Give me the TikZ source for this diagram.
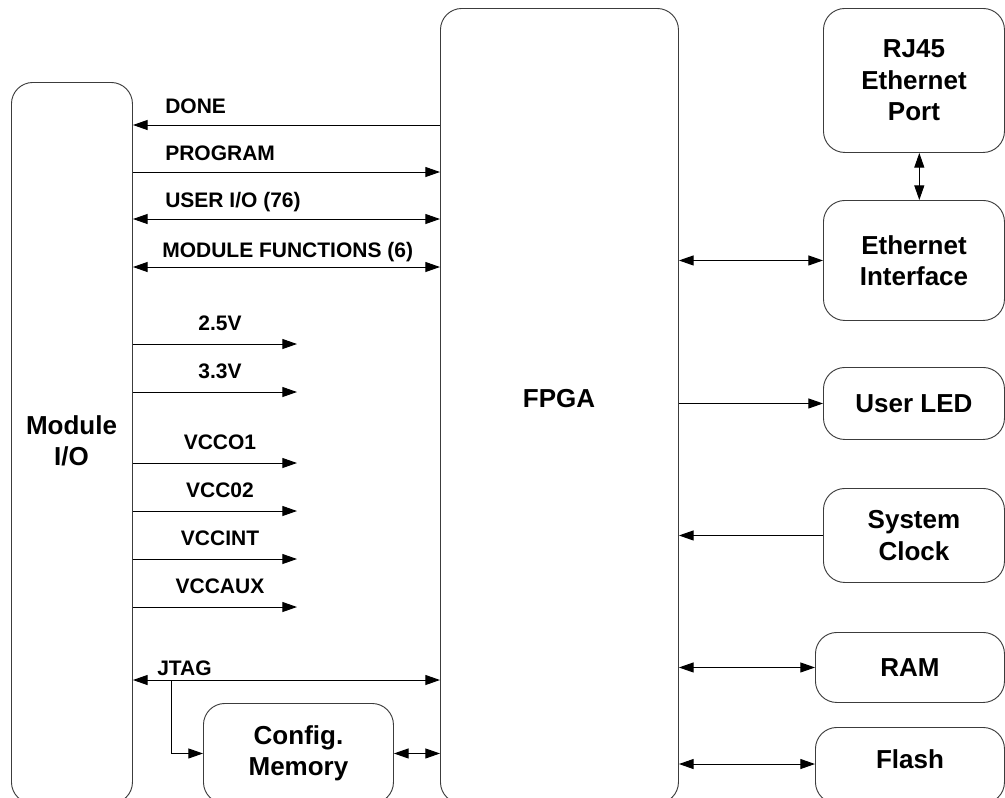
\documentclass[tikz,border=0pt]{standalone}
\usepackage{fontspec}
\setmainfont{Liberation Sans}
\usetikzlibrary{arrows.meta}
\usetikzlibrary{positioning}
\usepackage{xcolor}
\definecolor{edge}{HTML}{3C3C3C}
\newcommand{\px}{0.75pt}

\tikzset{
 blk/.style={draw=edge, line width=.7pt, rounded corners=16pt, anchor=north west, inner sep=0pt, align=center,
   font=\fontsize{19.5pt}{23.5pt}\selectfont\bfseries},
 big/.style={align=center, inner sep=0pt, font=\fontsize{19.5pt}{23.5pt}\selectfont\bfseries},
 lbl/.style={inner sep=0pt, font=\fontsize{15.75pt}{18pt}\selectfont\bfseries},
 sig/.style={line width=.75pt, black},
}

\begin{document}
\begin{tikzpicture}[x=\px, y=-\px, >={Triangle[length=11pt,width=7.5pt]}]
\useasboundingbox (0,0) rectangle (1005,797);
\clip (0,0) rectangle (1005,797);
% main blocks, cut off at the bottom
\node[blk, minimum width=121*\px, minimum height=721*\px] (mod) at (11,82) {};
\node[big] (modtxt) at (71.5,441) {Module\\I/O};
\node[blk, minimum width=238*\px, minimum height=795*\px] (fpga) at (440,8) {};
\node[big] (fpgatxt) at (559,399) {FPGA};
\node[blk, minimum width=190*\px, minimum height=100*\px] (cfg) at (203,703) {Config.\\Memory};
% right column
\node[blk, minimum width=181*\px, minimum height=144*\px] (rj) at (823,8) {RJ45\\Ethernet\\Port};
\node[blk, minimum width=181*\px, minimum height=120*\px] (eth) at (823,200) {Ethernet\\Interface};
\node[blk, minimum width=181*\px, minimum height=72*\px] (led) at (823,367) {User LED};
\node[blk, minimum width=181*\px, minimum height=94*\px] (clk) at (823,488) {System\\Clock};
\node[blk, minimum width=189*\px, minimum height=70*\px] (ram) at (815,632) {RAM};
\node[blk, minimum width=189*\px, minimum height=76*\px] (flash) at (815,727) {};
\node[big] (flashtxt) at (910,759) {Flash};

% module I/O <-> FPGA
\draw[sig, <-] (mod.east |- 0,125) -- (fpga.west |- 0,125);
\node[lbl, anchor=base west] (done) at (165,113) {DONE};
\draw[sig, ->] (mod.east |- 0,172) -- (fpga.west |- 0,172);
\node[lbl, anchor=base west] (prog) at (165,160) {PROGRAM};
\draw[sig, <->] (mod.east |- 0,219) -- (fpga.west |- 0,219);
\node[lbl, anchor=base west] (uio) at (165,207) {USER I/O (76)};
\draw[sig, <->] (mod.east |- 0,267) -- (fpga.west |- 0,267);
\node[lbl, anchor=base west] (mfun) at (162,257) {MODULE FUNCTIONS (6)};

% supply rails
\foreach \v/\y in {2.5V/344,3.3V/392,VCCO1/463,VCC02/511,VCCINT/559,VCCAUX/607} {
 \coordinate (r\y) at (297,\y);
 \draw[sig, ->] (mod.east |- r\y) -- (r\y);
 \node[lbl, anchor=base] (l\y) at (220,\y-14) {\v};
}

% JTAG chain
\coordinate (jt) at (171,680);
\draw[sig, <->] (mod.east |- jt) -- (fpga.west |- jt);
\node[lbl, anchor=base west] (jtag) at (157,675) {JTAG};
\draw[sig, ->] (jt) |- (cfg.west);
\draw[sig, <->] (cfg.east) -- (cfg.east -| fpga.west);

% FPGA peripherals
\draw[sig, <->] ([xshift=4pt]rj.south) -- ([xshift=4pt]eth.north);
\draw[sig, <->] (fpga.east |- eth.west) -- (eth.west);
\draw[sig, ->] (fpga.east |- led.west) -- (led.west);
\draw[sig, <-] (fpga.east |- clk.west) -- (clk.west);
\draw[sig, <->] (fpga.east |- ram.west) -- (ram.west);
\draw[sig, <->] (fpga.east |- 0,764) -- (flash.west |- 0,764);
\end{tikzpicture}
\end{document}
